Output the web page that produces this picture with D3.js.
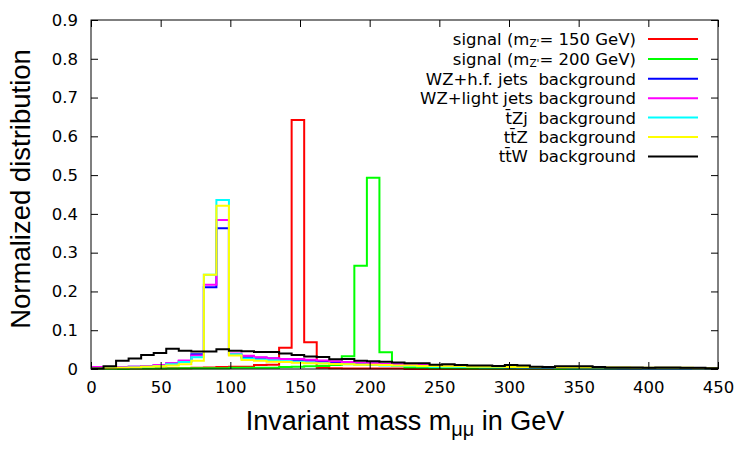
<!DOCTYPE html>
<html>
<head>
<meta charset="utf-8">
<script src="https://cdn.jsdelivr.net/npm/d3@7"></script>
<style>
  html, body { margin: 0; padding: 0; background: #fff; }
  svg { display: block; }
  text { white-space: pre; }
</style>
</head>
<body>
<svg id="chart" width="750" height="450"></svg>
<script>
// ---- data (50 bins of 9 GeV from 0 to 450 GeV) ----
const binWidth = 9;
const xTicks = [0, 50, 100, 150, 200, 250, 300, 350, 400, 450];
const yTicks = [0, 0.1, 0.2, 0.3, 0.4, 0.5, 0.6, 0.7, 0.8, 0.9];
const yTickLabels = ["0", "0.1", "0.2", "0.3", "0.4", "0.5", "0.6", "0.7", "0.8", "0.9"];

const signal150 = [0.000,0.000,0.001,0.001,0.001,0.001,0.002,0.002,0.003,0.004,
                   0.005,0.006,0.006,0.010,0.011,0.055,0.642,0.069,0.003,0.002,
                   0.001,0.001,0.001,0.001,0.001,0.000,0.000,0.000,0.000,0.000,
                   0.000,0.000,0.000,0.000,0.000,0.000,0.000,0.000,0.000,0.000,
                   0.000,0.000,0.000,0.000,0.000,0.000,0.000,0.000,0.000,0.000];
const signal200 = [0.000,0.000,0.000,0.001,0.001,0.001,0.001,0.002,0.002,0.002,
                   0.002,0.003,0.003,0.003,0.003,0.005,0.006,0.007,0.008,0.010,
                   0.033,0.266,0.493,0.043,0.008,0.004,0.003,0.002,0.002,0.002,
                   0.001,0.001,0.001,0.001,0.001,0.001,0.001,0.000,0.000,0.000,
                   0.000,0.000,0.000,0.000,0.000,0.000,0.000,0.000,0.000,0.000];
const wzHF = [0.003,0.004,0.005,0.006,0.008,0.010,0.014,0.020,0.038,0.211,
              0.363,0.036,0.030,0.029,0.027,0.025,0.024,0.022,0.020,0.018,
              0.016,0.015,0.014,0.013,0.012,0.011,0.010,0.009,0.008,0.007,
              0.006,0.005,0.005,0.004,0.004,0.003,0.003,0.003,0.002,0.002,
              0.002,0.002,0.001,0.001,0.001,0.001,0.001,0.001,0.001,0.001];
const wzLight = [0.005,0.004,0.005,0.006,0.008,0.010,0.015,0.022,0.035,0.217,
                 0.384,0.040,0.034,0.030,0.028,0.026,0.026,0.024,0.022,0.020,
                 0.018,0.016,0.015,0.013,0.012,0.011,0.010,0.009,0.008,0.007,
                 0.006,0.006,0.005,0.005,0.004,0.004,0.003,0.003,0.003,0.002,
                 0.002,0.002,0.002,0.002,0.001,0.001,0.001,0.001,0.001,0.001];
const tZj = [0.001,0.002,0.003,0.004,0.006,0.008,0.012,0.018,0.030,0.243,
             0.436,0.038,0.027,0.024,0.022,0.020,0.018,0.016,0.015,0.013,
             0.012,0.011,0.010,0.009,0.008,0.008,0.007,0.006,0.006,0.005,
             0.005,0.004,0.004,0.004,0.003,0.003,0.003,0.003,0.002,0.002,
             0.002,0.002,0.002,0.002,0.001,0.001,0.001,0.001,0.001,0.001];
const ttZ = [0.001,0.002,0.003,0.004,0.006,0.007,0.009,0.012,0.021,0.243,
             0.421,0.035,0.023,0.021,0.019,0.018,0.016,0.015,0.014,0.013,
             0.012,0.011,0.011,0.010,0.009,0.009,0.008,0.008,0.007,0.007,
             0.006,0.006,0.006,0.005,0.005,0.005,0.005,0.004,0.004,0.004,
             0.004,0.004,0.004,0.003,0.003,0.003,0.003,0.003,0.002,0.002];
const ttW = [0.001,0.007,0.021,0.027,0.036,0.041,0.052,0.047,0.045,0.045,
             0.051,0.047,0.046,0.044,0.044,0.040,0.036,0.032,0.031,0.025,
             0.026,0.021,0.020,0.019,0.017,0.015,0.015,0.011,0.012,0.010,
             0.009,0.009,0.008,0.010,0.009,0.006,0.005,0.007,0.007,0.007,
             0.005,0.004,0.004,0.004,0.003,0.004,0.004,0.003,0.003,0.002];

const seriesNames = ["signal150", "signal200", "wzHF", "wzLight", "tZj", "ttZ", "ttW"];
const seriesValues = [signal150, signal200, wzHF, wzLight, tZj, ttZ, ttW];
const seriesColors = ["#ff0000", "#00ff00", "#0000ff", "#ff00ff", "#00ffff", "#ffff00", "#000000"];

// ---- layout ----
const svg = d3.select("#chart");
const pLeft = 91, pRight = 718, pTop = 20, pBottom = 369;
const x = d3.scaleLinear().domain([0, 450]).range([pLeft, pRight]);
const y = d3.scaleLinear().domain([0, 0.9]).range([pBottom, pTop]);
const tickFont = "'DejaVu Sans', sans-serif";
const titleFont = "'Liberation Sans', Arial, sans-serif";

svg.append("defs").append("clipPath").attr("id", "plotclip")
  .append("rect").attr("x", pLeft).attr("y", pTop - 1).attr("width", pRight - pLeft).attr("height", pBottom - pTop + 2);

// series
const line = d3.line().x(d => x(d[0])).y(d => y(d[1])).curve(d3.curveStepAfter);
const gSeries = svg.append("g").attr("clip-path", "url(#plotclip)");
seriesValues.forEach((vals, k) => {
  const pts = vals.map((v, i) => [i * binWidth, v]);
  pts.push([vals.length * binWidth, vals[vals.length - 1]]);
  gSeries.append("path").attr("d", line(pts))
    .attr("fill", "none").attr("stroke", seriesColors[k]).attr("stroke-width", 2);
});

// axes (inward ticks on all four sides)
const tl = 7;
const axB = d3.axisBottom(x).tickValues(xTicks).tickSizeInner(-tl).tickSizeOuter(0).tickPadding(12).tickFormat(d3.format("d"));
const axT = d3.axisTop(x).tickValues(xTicks).tickSizeInner(-tl).tickSizeOuter(0).tickFormat("");
const axL = d3.axisLeft(y).tickValues(yTicks).tickSizeInner(-tl).tickSizeOuter(0).tickPadding(13).tickFormat((d, i) => yTickLabels[i]);
const axR = d3.axisRight(y).tickValues(yTicks).tickSizeInner(-tl).tickSizeOuter(0).tickFormat("");

function styleAxis(g) {
  g.select(".domain").remove();
  g.selectAll("line").attr("stroke", "#000").attr("stroke-width", 1);
  g.selectAll("text").attr("font-family", tickFont).attr("font-size", 16.5).attr("fill", "#000");
}
svg.append("g").attr("transform", `translate(0,${pBottom})`).call(axB).call(styleAxis);
svg.append("g").attr("transform", `translate(0,${pTop})`).call(axT).call(styleAxis);
svg.append("g").attr("transform", `translate(${pLeft},0)`).call(axL).call(styleAxis);
svg.append("g").attr("transform", `translate(${pRight},0)`).call(axR).call(styleAxis);

// frame
svg.append("rect").attr("x", pLeft).attr("y", pTop).attr("width", pRight - pLeft).attr("height", pBottom - pTop)
  .attr("fill", "none").attr("stroke", "#000").attr("stroke-width", 1);

// axis titles
const xt = svg.append("text").attr("x", 405).attr("y", 430).attr("text-anchor", "middle")
  .attr("font-family", titleFont).attr("font-size", 27).attr("fill", "#000");
xt.append("tspan").text("Invariant mass m");
xt.append("tspan").attr("font-size", 20).attr("dy", 6).text("μμ");
xt.append("tspan").attr("dy", -6).text(" in GeV");

svg.append("text").attr("transform", "translate(30,189) rotate(-90)").attr("text-anchor", "middle")
  .attr("font-family", titleFont).attr("font-size", 27.5).attr("fill", "#000")
  .text("Normalized distribution");

// legend
const legendRows = [
  [["signal (m", 0, 16.5], ["Z'", 2, 10.5], ["= 150 GeV)", -2, 16.5]],
  [["signal (m", 0, 16.5], ["Z'", 2, 10.5], ["= 200 GeV)", -2, 16.5]],
  [["WZ+h.f. jets  background", 0, 16.5]],
  [["WZ+light jets background", 0, 16.5]],
  [["t\u0304Zj  background", 0, 16.5]],
  [["tt\u0304Z  background", 0, 16.5]],
  [["tt\u0304W  background", 0, 16.5]]
];
const legendY = [39, 58.9, 78.8, 98.2, 117.6, 137.0, 156.4];
legendRows.forEach((parts, i) => {
  const cy = legendY[i];
  const t = svg.append("text").attr("x", 636).attr("y", cy + 6).attr("text-anchor", "end")
    .attr("font-family", tickFont).attr("font-size", 16.5).attr("fill", "#000");
  parts.forEach(p => t.append("tspan").attr("dy", p[1]).attr("font-size", p[2]).text(p[0]));
  svg.append("line").attr("x1", 648).attr("x2", 698).attr("y1", cy).attr("y2", cy)
    .attr("stroke", seriesColors[i]).attr("stroke-width", 2);
});
</script>
</body>
</html>
